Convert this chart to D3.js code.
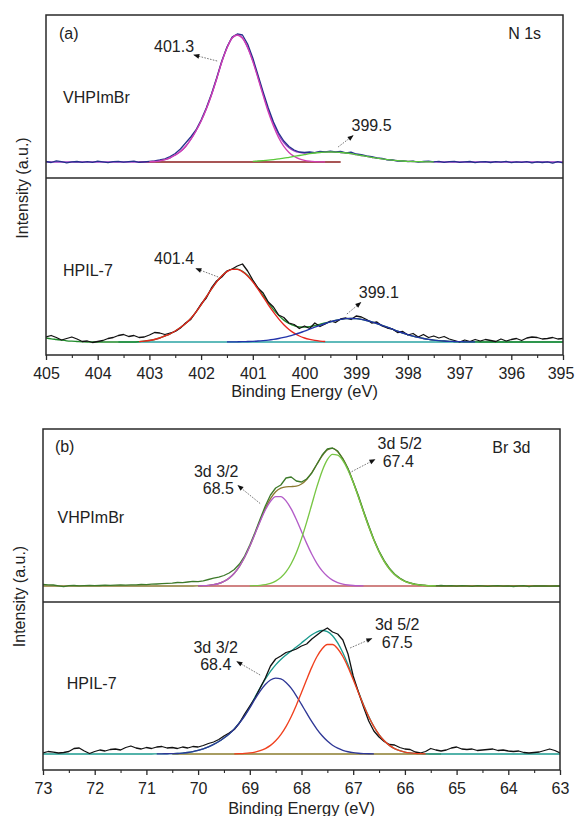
<!DOCTYPE html>
<html><head><meta charset="utf-8">
<script src="https://cdn.jsdelivr.net/npm/d3@7"></script>
<style>
body{margin:0;background:#fff;}
svg{display:block;}
text{font-family:"Liberation Sans",Arial,Helvetica,sans-serif;fill:#222;}
</style>
</head><body>
<svg id="c" width="575" height="816"></svg>
<script>
// ---------------- DATA ----------------
const n1sTicks = [405,404,403,402,401,400,399,398,397,396,395];
const br3dTicks = [73,72,71,70,69,68,67,66,65,64,63];
const gridStep = 0.1;          // eV between samples
const n1sStart = 405.0;        // first sample of full-grid arrays (N 1s)
const br3dStart = 73.0;        // first sample of full-grid arrays (Br 3d)

// (a) N 1s – VHPImBr  (intensity in a.u.)
const vhpN_data = [
0.5,-0.5,1.2,0.3,-0.8,0.2,0.5,-0.3,0.4,-0.4,
0.8,0.2,-0.6,0.3,0.6,-0.2,0.4,0.9,-0.3,0.2,
0.6,1.0,2.0,3.2,5.5,8.5,13,19,25,32,
42,54,68,84,101,115,125,128,127,118,
104,87,70,54,40,29,21,15.5,12,10,
9.5,10,9.4,10.5,10.2,10.8,10.0,10.6,9.2,9.8,
8.0,7.4,6.0,5.4,4.0,3.6,2.2,2.0,0.9,1.2,
0.4,0.8,-0.2,0.5,0.9,0.1,0.6,-0.3,0.3,0.7,
-0.4,0.2,0.5,-0.6,0.1,0.4,-0.5,0.3,-0.2,0.6,
-0.7,0.2,-0.3,0.4,-0.8,0.1,-0.5,0.2,-1.2,0.3,
-0.8];
const vhpN_env = [
0,0,0,0,0,0,0,0,0,0, 0,0,0,0,0,0,0,0,0,0,
0.3,0.5,1.2,2.3,4.2,7,10.5,15.5,22.5,31,
41,53,67,83,100,114,124,127,124,114.6,
101.3,85,68,51.8,38.4,27.4,19.4,14.3,11.2,9.6,
9.0,9.1,9.4,9.7,10.0,10,9.9,9.5,9.0,8.3,
7.4,6.5,5.6,4.7,3.8,3.1,2.4,1.8,1.35,1.0,
0.7,0.5,0.3,0.2,0.15,0.1,
0,0,0,0,0,0,0,0,0,0, 0,0,0,0,0,0,0,0,0,0, 0,0,0,0,0];
const vhpN_peak1Start = 403.0;   // 401.3 component
const vhpN_peak1 = [0.3,0.5,1.2,2.3,4.2,7,10.5,15.5,22.5,31, 41,53,67,83,100,114,124,127,124,114.6,
100.6,84,66.6,50,36,24.3,15.6,9.6,5.6,3.1, 1.6,0.8,0.4,0.2,0.1];
const vhpN_peak2Start = 401.0;   // 399.5 component
const vhpN_peak2 = [0.7,1.0,1.35,1.8,2.4,3.1,3.8,4.7,5.6,6.5, 7.4,8.3,9.0,9.5,9.9,10,9.9,9.5,9.0,8.3,
7.4,6.5,5.6,4.7,3.8,3.1,2.4,1.8,1.35,1.0, 0.7,0.5,0.3,0.2,0.15,0.1];
const vhpN_baseRange = [403.2, 399.3];

// (a) N 1s – HPIL-7
const hpilN_data = [
5,6.5,4.5,2,3.5,5,3,0.5,1,-0.5,
0.5,1.5,3.5,4.5,6.5,7.5,5.5,6.5,4.5,5,
7,9.5,9,7.5,9,10.5,14,19,22.5,30,
38,44,54,61,65,71,73,76,78,71,
62,54,49,40,35,27,24.5,19,17.5,13.5,
16,13.5,19,15.5,18,21,19.5,23,24,22.5,
26,25,22.5,19,20,16,14,13,9.5,10.5,
7,8.5,5,7.5,4.5,6,4,5.5,3,1.5,
0,2,0.5,2.5,1,2.5,1.5,0.5,3,1,
2.5,3.5,1.5,4,5,4.5,3,3.5,4.5,3,
3.5];
const hpilN_env = [
4,3.2,2.5,1.8,1.2,0.8,0.5,0.2,0,0,
0,0,0,0,0,0,0,0,
0.3,0.8,1.5,2.5,4,6,8,11,14.5,18.5,
23.5,29.8,37.2,45.1,52.9,60.1,66.1,70.5,72.8,72.9,
70.7,66.6,60.8,53.9,46.5,39.1,32.4,26.6,21.9,18.5,
16.3,15.0,14.9,15.4,16.4,17.65,19.0,20.1,21.5,22.6,
23.3,23.5,23.3,22.6,21.5,20.1,18.5,16.7,14.8,12.8,
10.9,9.0,7.4,5.9,4.6,3.5,2.6,1.9,1.4,1.0,
0.7,0.5,0.3,0.2,0.14,0.1,
0,0,0,0,0,0,0,0,0,0, 0,0,0,0,0,0,0];
const hpilN_peak1Start = 403.2;  // 401.4 component
const hpilN_peak1 = [0.3,0.8,1.5,2.5,4,6,8,11,14.5,18.5,
23.5,29.8,37.2,45.1,52.9,60.1,66.1,70.4,72.7,72.7,
70.4,66.1,60.1,52.9,45.1,37.2,29.8,23.1,17.3,12.6,
8.9,6.0,4.0,2.6,1.6,0.95,0.5];
const hpilN_peak2Start = 401.5;  // 399.1 component
const hpilN_peak2 = [0.1,0.14,0.2,0.3,0.5,0.7,1.0,1.4,1.9,2.6,
3.5,4.6,5.9,7.4,9.0,10.9,12.8,14.8,16.7,18.5,
20.1,21.5,22.6,23.3,23.5,23.3,22.6,21.5,20.1,18.5,
16.7,14.8,12.8,10.9,9.0,7.4,5.9,4.6,3.5,2.6,
1.9,1.4,1.0,0.7,0.5,0.3,0.2,0.14,0.1];
const hpilN_baseRange = [403.6, 395.0];

// (b) Br 3d – VHPImBr
const vhpBr_data = [
1.5,1.2,1.0,0.2,-0.7,0.3,0.5,0.2,0.4,0.6,
0.3,0.5,0.8,0.6,0.9,1.0,0.8,1.2,1.1,1.5,
1.4,1.8,2.0,2.3,2.6,2.9,3.5,3.4,4.0,4.6,
4.4,5.2,6.5,7.8,8.8,10.5,13.0,16.5,22,30,
41,53.5,67,80,91,98,101,108,109,105,
104,107,113,122,131,137,138,135,127,117.5,
104,90.5,75,60.5,46.5,35,25.5,17.8,12,8,
5,3.2,1.8,1.2,0.6,0.4,0.2,0.5,0.1,0.3,
-0.2,0.4,0.2,-0.3,0.3,0.1,-0.4,0.2,0.4,-0.2,
0.1,-0.5,0.2,0.3,-0.6,0.1,0,0.2,-0.1,0.1,
0];
const vhpBr_env = [
0,0,0,0,0,0,0,0,0,0, 0,0,0,0,0,0,0,0,0,0, 0,0,0,0,0,0,0,0,0,0,
0.13,0.3,0.65,1.3,2.5,4.6,7.9,12.8,19.7,28.7,
39.85,52.4,65.3,77.4,87.3,94.3,97.9,99.2,99.4,99.8,
102.0,106.5,113.5,122.0,130.2,136.1,137.6,134.3,127.3,116.9,
104.0,89.3,74.1,59.4,45.9,34.3,24.7,17.2,11.5,7.5,
4.7,2.8,1.6,0.9,0.5,0.25,0.12,
0,0,0,0,0,0,0,0,0,0, 0,0,0,0,0,0,0,0,0,0, 0,0,0,0];
const vhpBr_d32Start = 70.0;     // 3d 3/2 (68.5)
const vhpBr_d32 = [0.13,0.3,0.65,1.3,2.5,4.6,7.9,12.8,19.7,28.7,
39.7,52.1,64.6,76.0,84.7,89.4,89.4,85.1,77.1,66.5,
54.6,42.6,31.7,22.4,15.1,9.7,5.9,3.4,1.9,1.0,
0.5,0.24,0.1];
const vhpBr_d52Start = 69.0;     // 3d 5/2 (67.4)
const vhpBr_d52 = [0.15,0.3,0.7,1.4,2.6,4.9,8.5,14.1,22.3,33.3,
47.4,63.9,81.8,99.6,115.1,126.4,131.7,130.9,125.4,115.9,
103.5,89.1,74.0,59.4,45.9,34.3,24.7,17.2,11.5,7.5,
4.7,2.8,1.6,0.9,0.5,0.25,0.12];
const vhpBr_baseRange = [70.0, 63.0];

// (b) Br 3d – HPIL-7
const hpilBr_data = [
1,2.5,1.8,1.0,1.5,2.5,5.5,6,3,0.5,
2.5,4,3,4.5,5,4,6.5,8,6,5,
6.5,5.5,7,7.5,6,6.5,5.5,7,6,7.5,
7,8.5,10.5,12,14.5,18,21,24.5,31,40,
48,56,66,76,88,95,98,101.5,103,105,
108,110,115,119,123,126,122,120,114,100,
78,62,47,33,23,17,12.5,9.5,9,6.5,
5,4.5,2,1,2.5,5.5,4,3,4,6,
7,5,4.5,5,3.5,4,4.5,5,3.5,4,
3,2.5,3,1.5,1,1.5,2,3.5,5,3.5,
1];
const hpilBr_env = [
0,0,0,0,0,0,0,0,0,0, 0,0,0,0,0,0,0,0,0,0, 0,0,
0.1,0.15,0.25,0.35,0.5,0.9,1.5,2.4,3.6,5.2,
7.2,9.6,12.5,16.0,20.0,25.1,31.3,38.6,47.2,56.8,
66.2,74.9,82.6,89.1,94.5,99.0,103.1,107.0,111.1,115.3,
119.2,122.2,123.5,122.4,118.3,111.1,101.2,89.2,75.8,62.3,
49.2,37.5,27.5,19.4,13.2,8.6,5.4,3.3,1.9,1.1,
0.6,0.3,0.14,
0,0,0,0,0,0,0,0,0,0, 0,0,0,0,0,0,0,0,0,0, 0,0,0,0,0,0];
const hpilBr_d32Start = 70.8;    // 3d 3/2 (68.4)
const hpilBr_d32 = [0.1,0.15,0.25,0.35,0.5,0.9,1.5,2.4,3.6,5.2,
7.2,9.6,12.5,16.0,20.0,25.0,31.0,38.0,46.1,54.9,
62.9,69.5,74.0,75.9,75.1,71.6,65.8,58.2,49.6,40.8,
32.3,24.7,18.2,12.9,8.8,5.8,3.7,2.25,1.3,0.75,
0.41,0.21,0.11];
const hpilBr_d52Start = 69.3;    // 3d 5/2 (67.5)
const hpilBr_d52 = [0.14,0.3,0.6,1.1,1.9,3.3,5.4,8.6,13.2,19.4,
27.4,37.3,48.8,61.5,74.5,86.9,97.5,105.3,109.5,109.5,
105.3,97.5,86.9,74.5,61.5,48.8,37.3,27.4,19.4,13.2,
8.6,5.4,3.3,1.9,1.1,0.6,0.3,0.14];
const hpilBr_baseRange = [70.5, 65.3];

// texts (anchored in data units: energy, intensity)
const n1sTexts = [
  {sub:0, t:"(a)",     e:404.75, v:123.4},
  {sub:0, t:"N 1s",    e:396.06, v:122.7},
  {sub:0, t:"VHPImBr", e:404.67, v:58.7},
  {sub:0, t:"401.3",   e:402.91, v:109.7},
  {sub:0, t:"399.5",   e:399.09, v:31.3},
  {sub:1, t:"HPIL-7",  e:404.67, v:66},
  {sub:1, t:"401.4",   e:402.91, v:77.7},
  {sub:1, t:"399.1",   e:398.95, v:43.7}
];
const n1sArrows = [
  {sub:0, from:[401.69,101], to:[402.14,107]},
  {sub:0, from:[399.35,15],  to:[399.06,26.5]},
  {sub:1, from:[401.67,65],  to:[402.10,73.5]},
  {sub:1, from:[399.18,28],  to:[398.91,39.5]}
];
const br3dTexts = [
  {sub:0, t:"(b)",     e:72.77, v:134},
  {sub:0, t:"Br 3d",   e:64.31, v:132.7},
  {sub:0, t:"VHPImBr", e:72.72, v:63.3},
  {sub:0, t:"3d 3/2",  e:70.08, v:109.5},
  {sub:0, t:"68.5",    e:69.91, v:92},
  {sub:0, t:"3d 5/2",  e:66.53, v:137},
  {sub:0, t:"67.4",    e:66.43, v:119.3},
  {sub:1, t:"HPIL-7",  e:72.54, v:64.7},
  {sub:1, t:"3d 3/2",  e:70.09, v:101.5},
  {sub:1, t:"68.4",    e:69.96, v:84},
  {sub:1, t:"3d 5/2",  e:66.58, v:124.3},
  {sub:1, t:"67.5",    e:66.45, v:105.7}
];
const br3dArrows = [
  {sub:0, from:[68.80,82.5], to:[69.23,100.5]},
  {sub:0, from:[67.08,113],  to:[66.58,126.5]},
  {sub:1, from:[68.80,79],   to:[69.25,92.5]},
  {sub:1, from:[67.06,106],  to:[66.64,115.5]}
];
const xTitle = "Binding Energy (eV)";
const yTitle = "Intensity (a.u.)";

// ---------------- DRAW ----------------
const svg = d3.select("#c");
const defs = svg.append("defs");
defs.append("marker").attr("id","ah").attr("viewBox","0 0 10 10")
  .attr("refX",9).attr("refY",5).attr("markerUnits","userSpaceOnUse")
  .attr("markerWidth",7).attr("markerHeight",6).attr("orient","auto")
  .append("path").attr("d","M0,1 L10,5 L0,9 Z").attr("fill","#111");

function pts(start, vals){ return vals.map((v,i)=>({e: +(start - i*gridStep).toFixed(2), v})); }

const panels = [
 { x: d3.scaleLinear().domain([405,395]).range([46,563]),
   top:15, mid:178, bottom:355, ticks:n1sTicks, labelPad:8, titleY:397, yTitleX:28.3,
   texts:n1sTexts, arrows:n1sArrows,
   subs:[
    { y: d3.scaleLinear().domain([-16,147]).range([178,15]),
      base: vhpN_baseRange, baseColor:"#8b1c1c",
      comps:[{s:vhpN_peak1Start, d:vhpN_peak1, c:"#d03fb4"},{s:vhpN_peak2Start, d:vhpN_peak2, c:"#5ac83a"}],
      env:{d:vhpN_env, c:"#9a3cc4"}, data:{d:vhpN_data, c:"#25308c"}, start:n1sStart },
    { y: d3.scaleLinear().domain([-13,164]).range([355,178]),
      base: hpilN_baseRange, baseColor:"#2aa3a3",
      comps:[{s:hpilN_peak1Start, d:hpilN_peak1, c:"#e8251e"},{s:hpilN_peak2Start, d:hpilN_peak2, c:"#2233aa"}],
      env:{d:hpilN_env, c:"#1f8a2a"}, data:{d:hpilN_data, c:"#111"}, start:n1sStart }
   ]},
 { x: d3.scaleLinear().domain([73,63]).range([43,560]),
   top:429, mid:602, bottom:770, ticks:br3dTicks, labelPad:7.6, titleY:814, yTitleX:25,
   texts:br3dTexts, arrows:br3dArrows,
   subs:[
    { y: d3.scaleLinear().domain([-16,157]).range([602,429]),
      base: vhpBr_baseRange, baseColor:"#c05a5a",
      comps:[{s:vhpBr_d32Start, d:vhpBr_d32, c:"#b35cc8"},{s:vhpBr_d52Start, d:vhpBr_d52, c:"#78c644"}],
      env:{d:vhpBr_env, c:"#8c7a32"}, data:{d:vhpBr_data, c:"#3d7a2a"}, start:br3dStart },
    { y: d3.scaleLinear().domain([-16,152]).range([770,602]),
      base: hpilBr_baseRange, baseColor:"#8b7d2e",
      comps:[{s:hpilBr_d32Start, d:hpilBr_d32, c:"#2e3796"},{s:hpilBr_d52Start, d:hpilBr_d52, c:"#f0401e"}],
      env:{d:hpilBr_env, c:"#1b9a8e"}, data:{d:hpilBr_data, c:"#111"}, start:br3dStart }
   ]}
];

panels.forEach((p,pi)=>{
  const x = p.x;
  const [x0,x1] = x.range();
  const g = svg.append("g");
  p.subs.forEach((s,si)=>{
    const [yb, yt] = s.y.range();
    const cid = "clip"+pi+"_"+si;
    defs.append("clipPath").attr("id",cid).append("rect")
      .attr("x",x0).attr("y",yt).attr("width",x1-x0).attr("height",yb-yt);
    const sg = g.append("g").attr("clip-path",`url(#${cid})`);
    const smooth = d3.line().x(d=>x(d.e)).y(d=>s.y(d.v)).curve(d3.curveMonotoneX);
    const raw = d3.line().x(d=>x(d.e)).y(d=>s.y(d.v));
    sg.append("path").datum([{e:s.base[0],v:0},{e:s.base[1],v:0}])
      .attr("d",raw).attr("fill","none").attr("stroke",s.baseColor).attr("stroke-width",1.3);
    sg.append("path").datum(pts(s.start, s.env.d)).attr("d",smooth)
      .attr("fill","none").attr("stroke",s.env.c).attr("stroke-width",1.35);
    sg.append("path").datum(pts(s.start, s.data.d)).attr("d",raw)
      .attr("fill","none").attr("stroke",s.data.c).attr("stroke-width",1.3).attr("stroke-linejoin","round");
    s.comps.forEach(c=>{
      sg.append("path").datum(pts(c.s, c.d)).attr("d",smooth)
        .attr("fill","none").attr("stroke",c.c).attr("stroke-width",1.35);
    });
  });

  g.append("rect").attr("x",x0).attr("y",p.top).attr("width",x1-x0).attr("height",p.bottom-p.top)
    .attr("fill","none").attr("stroke","#2a2a2a").attr("stroke-width",1.5);
  g.append("line").attr("x1",x0).attr("x2",x1).attr("y1",p.mid).attr("y2",p.mid)
    .attr("stroke","#2a2a2a").attr("stroke-width",1.5);

  const minor = p.ticks.slice(1).map((t,i)=>(t+p.ticks[i])/2);
  const ax = g.append("g").attr("transform",`translate(0,${p.bottom})`)
    .call(d3.axisBottom(x).tickValues(p.ticks).tickSize(5).tickSizeOuter(0).tickPadding(p.labelPad).tickFormat(d3.format("d")));
  ax.select(".domain").remove();
  ax.selectAll("line").attr("stroke","#2a2a2a").attr("stroke-width",1.3);
  ax.selectAll("text").attr("font-size",16).attr("fill","#222")
    .style("font-family",'"Liberation Sans",Arial,sans-serif');
  // keep the last label inside the page
  const labels = ax.selectAll("text").nodes();
  const last = labels[labels.length-1];
  const bb = last.getBBox();
  const gx = x(p.ticks[p.ticks.length-1]) + bb.x + bb.width;
  if (gx > 574) d3.select(last).attr("dx", (574-gx)+"px");
  const axm = g.append("g").attr("transform",`translate(0,${p.bottom})`)
    .call(d3.axisBottom(x).tickValues(minor).tickSize(3).tickSizeOuter(0).tickFormat(""));
  axm.select(".domain").remove();
  axm.selectAll("line").attr("stroke","#2a2a2a").attr("stroke-width",1.1);

  g.append("text").attr("x",(x0+x1)/2).attr("y",p.titleY).attr("text-anchor","middle")
    .attr("font-size",16.4).text(xTitle);
  const ymid = (p.top+p.bottom)/2 + (pi===0?3:-3);
  g.append("text").attr("transform",`translate(${p.yTitleX},${ymid}) rotate(-90)`)
    .attr("text-anchor","middle").attr("font-size",16).text(yTitle);

  p.arrows.forEach(a=>{
    const y = p.subs[a.sub].y;
    g.append("line").attr("x1",x(a.from[0])).attr("y1",y(a.from[1]))
      .attr("x2",x(a.to[0])).attr("y2",y(a.to[1]))
      .attr("stroke","#777").attr("stroke-width",1).attr("stroke-dasharray","1.6,1.3")
      .attr("marker-end","url(#ah)");
  });
  p.texts.forEach(t=>{
    const y = p.subs[t.sub].y;
    g.append("text").attr("x",x(t.e)).attr("y",y(t.v)).attr("font-size",16).text(t.t);
  });
});
</script>
</body></html>
